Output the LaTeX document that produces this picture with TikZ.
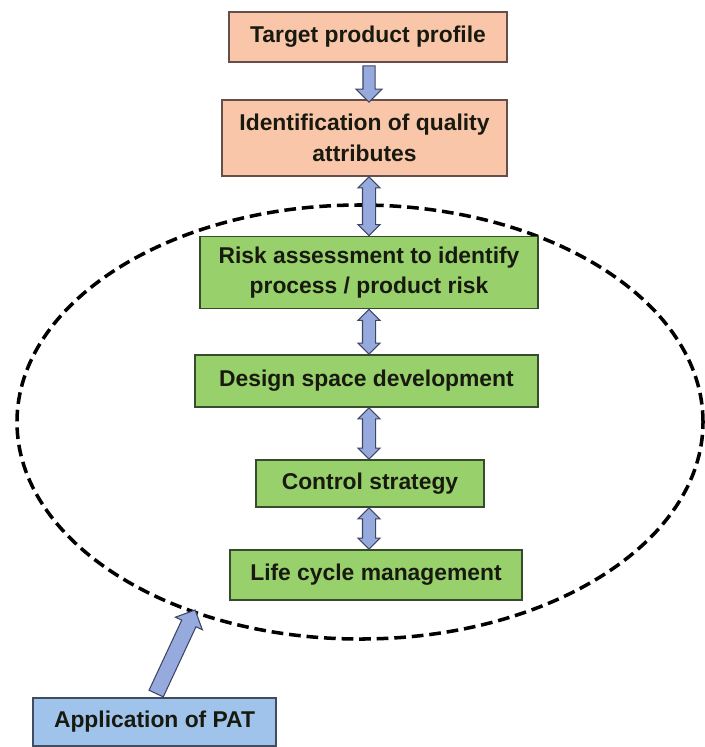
\documentclass[tikz,border=0pt]{standalone}
\usepackage{fontspec}
\setmainfont{Liberation Sans}
\usepackage{xcolor}
\usepackage{tikz}
\usetikzlibrary{shapes.geometric, shapes.arrows, positioning, calc}
\definecolor{peach}{RGB}{250, 198, 170}
\definecolor{peachline}{RGB}{100, 80, 72}
\definecolor{leaf}{RGB}{152, 208, 108}
\definecolor{leafline}{RGB}{55, 75, 45}
\definecolor{sky}{RGB}{160, 195, 235}
\definecolor{skyline}{RGB}{66, 76, 96}
\definecolor{arrowfill}{RGB}{150, 170, 222}
\definecolor{arrowline}{RGB}{62, 70, 100}
\definecolor{inkdark}{RGB}{24, 26, 16}

\tikzset{
  box/.style={draw=#1, line width=1.5pt, inner sep=0pt, align=center, text=inkdark,
    font=\bfseries\fontsize{19.5}{26}\selectfont},
  peachbox/.style={box=peachline, fill=peach},
  leafbox/.style={box=leafline, fill=leaf},
  skybox/.style={box=skyline, fill=sky},
  dblarrow/.style={double arrow, draw=arrowline, fill=arrowfill, line width=0.9pt,
    inner xsep=0pt, inner ysep=0.18cm, double arrow head extend=0.135cm},
  onearrow/.style={single arrow, draw=arrowline, fill=arrowfill, line width=0.9pt,
    inner xsep=0pt, inner ysep=#1, single arrow head extend=0.21cm},
}

\begin{document}
\begin{tikzpicture}[x=0.03cm, y=-0.03cm]
        \useasboundingbox (0, 0) rectangle (705, 747);

        % Dashed region around the QbD steps
        \node[ellipse, draw, dash pattern=on 10pt off 5pt, line width=3pt,
          minimum width=20.58cm, minimum height=13.02cm] (qbd) at (360, 422) {};

        % Top steps
        \node[peachbox, minimum width=8.34cm, minimum height=1.5cm] (target) at (368, 37) {Target product profile};
        \node[peachbox, minimum width=8.55cm, minimum height=2.28cm] (ident) at (364.5, 138) {Identification of quality\\attributes};

        % Steps inside the region
        \node[leafbox, minimum width=10.14cm, minimum height=2.16cm] (risk) at (369, 272.5) {Risk assessment to identify\\process / product risk};
        \node[leafbox, minimum width=10.29cm, minimum height=1.56cm] (design) at (366.5, 381) {Design space development};
        \node[leafbox, minimum width=6.84cm, minimum height=1.41cm] (control) at (370, 483.5) {Control strategy};
        \node[leafbox, minimum width=8.76cm, minimum height=1.5cm] (life) at (376, 575) {Life cycle management};

        % PAT
        \node[skybox, minimum width=7.29cm, minimum height=1.44cm] (pat) at (154.5, 722) {Application of PAT};

        % Arrows along the column
        \coordinate (spine) at (369, 0);
        \path let \p1=($(spine |- ident.north)-(spine |- target.south)$), \n1={veclen(\x1,\y1)} in
          node[onearrow=0.165cm, minimum height=\n1, rotate=-90] at ($(spine |- target.south)!0.5!(spine |- ident.north)$) {};
        \foreach \from/\to in {ident/risk, risk/design, design/control, control/life}
          \path let \p1=($(spine |- \to.north)-(spine |- \from.south)$), \n1={veclen(\x1,\y1)} in
            node[dblarrow, minimum height=\n1, rotate=90] at ($(spine |- \from.south)!0.5!(spine |- \to.north)$) {};

        % PAT feeds into the region
        \path let \p1=($(qbd.229)-(pat.north)$), \n1={veclen(\x1,\y1)}, \n2={atan2(\y1,\x1)} in
          node[onearrow=0.22cm, minimum height=\n1, rotate=\n2] at ($(pat.north)!0.5!(qbd.229)$) {};
\end{tikzpicture}
\end{document}
